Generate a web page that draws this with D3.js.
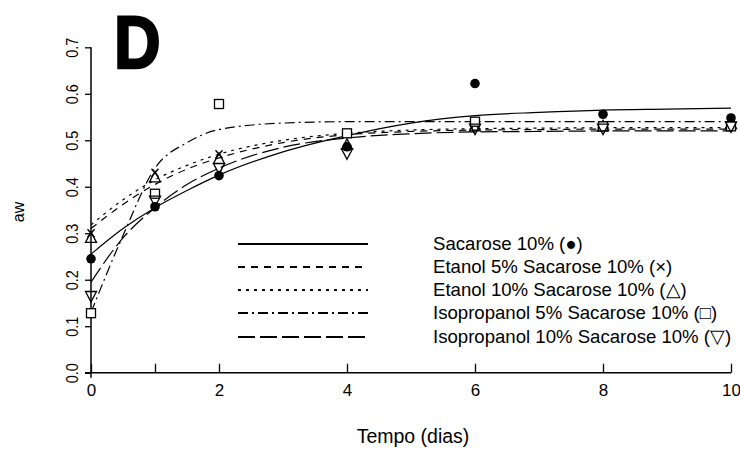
<!DOCTYPE html>
<html>
<head>
<meta charset="utf-8">
<script src="https://cdn.jsdelivr.net/npm/d3@7"></script>
<style>
  html, body { margin: 0; padding: 0; background: #fff; }
  svg { display: block; }
  text { font-family: "Liberation Sans", Arial, sans-serif; fill: #000; }
</style>
</head>
<body>
<svg id="chart" width="740" height="450"></svg>
<script>
// ---- data ----
const days = [0, 1, 2, 4, 6, 8, 10];
const seriesNames = [
  "Sacarose 10% (\u25CF)",
  "Etanol 5% Sacarose 10% (\u00D7)",
  "Etanol 10% Sacarose 10% (\u25B3)",
  "Isopropanol 5% Sacarose 10% (\u25A1)",
  "Isopropanol 10% Sacarose 10% (\u25BD)"
];
// observed aw values at each day
const sacarose      = [0.245, 0.357, 0.424, 0.486, 0.622, 0.556, 0.548];
const etanol5       = [0.300, 0.430, 0.470, 0.515, 0.535, 0.530, 0.535];
const etanol10      = [0.290, 0.420, 0.460, 0.490, 0.530, 0.530, 0.535];
const isopropanol5  = [0.128, 0.385, 0.578, 0.515, 0.540, 0.530, 0.530];
const isopropanol10 = [0.165, 0.370, 0.440, 0.472, 0.525, 0.525, 0.530];

// fitted curves, read as points off the picture
const fitDays = [0, 0.5, 1, 1.5, 2, 3, 4, 5, 6, 7, 8, 9, 10];
const fitSacarose      = [0.255, 0.310, 0.355, 0.392, 0.425, 0.475, 0.510, 0.537, 0.553, 0.560, 0.565, 0.567, 0.569];
const fitEtanol5       = [0.310, 0.362, 0.405, 0.438, 0.462, 0.495, 0.512, 0.519, 0.522, 0.523, 0.524, 0.524, 0.524];
const fitEtanol10      = [0.318, 0.372, 0.415, 0.446, 0.470, 0.500, 0.515, 0.522, 0.525, 0.526, 0.527, 0.527, 0.527];
const fitIsopropanol5  = [0.130, 0.295, 0.440, 0.495, 0.523, 0.537, 0.540, 0.540, 0.540, 0.540, 0.540, 0.540, 0.540];
const fitIsopropanol10 = [0.195, 0.290, 0.355, 0.405, 0.440, 0.485, 0.505, 0.514, 0.518, 0.519, 0.520, 0.520, 0.520];

const yTicks = [0.0, 0.1, 0.2, 0.3, 0.4, 0.5, 0.6, 0.7];
const xTickLabels = [0, 2, 4, 6, 8, 10];
const xTickMarks = [0, 1, 2, 4, 6, 8, 10];

// ---- layout ----
const svg = d3.select("#chart");
const x = d3.scaleLinear().domain([0, 10]).range([91, 731]);
const y = d3.scaleLinear().domain([0, 0.7]).range([372.7, 47.3]);

const markers = ["circle", "x", "tri", "square", "itri"];
const dashes = [null, "7,6", "3,5", "10,4,2,4", "17,5"];

const observed = [sacarose, etanol5, etanol10, isopropanol5, isopropanol10];
const fits = [fitSacarose, fitEtanol5, fitEtanol10, fitIsopropanol5, fitIsopropanol10];

// ---- axes ----
const yAxis = d3.axisLeft(y).tickValues(yTicks).tickSize(6).tickFormat(d3.format(".1f"));
const gy = svg.append("g").attr("transform", "translate(91,0)").call(yAxis);
gy.select(".domain").attr("d", `M0,${y(0.7)}V${y(0) + 5}`).attr("stroke", "#000").attr("stroke-width", 1.5);
gy.selectAll(".tick line").attr("stroke", "#000").attr("stroke-width", 1.3);
gy.selectAll(".tick text")
  .attr("font-size", 17)
  .attr("transform", "rotate(-90) scale(0.85,1)")
  .attr("x", 0).attr("y", -13)
  .attr("dy", "0")
  .attr("text-anchor", "middle")
  .attr("font-family", "Liberation Sans, Arial, sans-serif");

const xAxis = d3.axisBottom(x).tickValues(xTickMarks).tickSize(-9)
  .tickFormat(d => xTickLabels.includes(d) ? d : "");
const gx = svg.append("g").attr("transform", `translate(0,${y(0)})`).call(xAxis);
gx.select(".domain").attr("d", `M${x(0) - 6},0H${x(10)}`).attr("stroke", "#000").attr("stroke-width", 1.5);
gx.selectAll(".tick line").attr("stroke", "#000").attr("stroke-width", 1.3);
gx.selectAll(".tick text").attr("font-size", 17).attr("y", 11).attr("dy", "0.71em")
  .attr("font-family", "Liberation Sans, Arial, sans-serif");

// axis titles
svg.append("text").attr("x", 413).attr("y", 443).attr("text-anchor", "middle")
  .attr("font-size", 19.5).text("Tempo (dias)");
svg.append("text").attr("transform", "translate(24,212) rotate(-90)")
  .attr("text-anchor", "middle").attr("font-size", 16).text("aw");

// panel letter
svg.append("text").attr("transform", "translate(114,68) scale(0.86,1)").attr("font-size", 75)
  .attr("font-weight", "bold").attr("stroke", "#000").attr("stroke-width", 2.5)
  .text("D");

// ---- fitted curves ----
const line = d3.line().x(d => x(d[0])).y(d => y(d[1])).curve(d3.curveMonotoneX);
fits.forEach((f, i) => {
  svg.append("path")
    .datum(fitDays.map((t, j) => [t, f[j]]))
    .attr("d", line)
    .attr("fill", "none")
    .attr("stroke", "#000")
    .attr("stroke-width", 1.2)
    .attr("stroke-dasharray", dashes[i]);
});

// ---- markers ----
function drawMarker(g, type, cx, cy) {
  if (type === "circle") {
    g.append("circle").attr("cx", cx).attr("cy", cy).attr("r", 4.8).attr("fill", "#000");
  } else if (type === "square") {
    g.append("rect").attr("x", cx - 4.5).attr("y", cy - 4.5).attr("width", 9).attr("height", 9)
      .attr("fill", "#fff").attr("stroke", "#000").attr("stroke-width", 1.3);
  } else if (type === "tri") {
    g.append("path").attr("d", `M${cx},${cy - 6}L${cx + 5.5},${cy + 4.5}L${cx - 5.5},${cy + 4.5}Z`)
      .attr("fill", "none").attr("stroke", "#000").attr("stroke-width", 1.3);
  } else if (type === "itri") {
    g.append("path").attr("d", `M${cx},${cy + 6}L${cx + 5.5},${cy - 4.5}L${cx - 5.5},${cy - 4.5}Z`)
      .attr("fill", "none").attr("stroke", "#000").attr("stroke-width", 1.3);
  } else if (type === "x") {
    g.append("path").attr("d", `M${cx - 3.5},${cy - 4}L${cx + 3.5},${cy + 4}M${cx + 3.5},${cy - 4}L${cx - 3.5},${cy + 4}`)
      .attr("stroke", "#000").attr("stroke-width", 1.4);
  }
}
const gm = svg.append("g");
observed.forEach((vals, i) => {
  vals.forEach((v, j) => drawMarker(gm, markers[i], x(days[j]), y(v)));
});

// ---- legend ----
const legRows = [244, 267, 290, 313, 337];
const lg = svg.append("g");
seriesNames.forEach((name, i) => {
  lg.append("line").attr("x1", 238).attr("x2", 368).attr("y1", legRows[i]).attr("y2", legRows[i])
    .attr("stroke", "#000").attr("stroke-width", 1.8).attr("stroke-dasharray", dashes[i]);
  lg.append("text").attr("x", 433).attr("y", legRows[i] + 6).attr("font-size", 18.6).text(name);
});
</script>
</body>
</html>
